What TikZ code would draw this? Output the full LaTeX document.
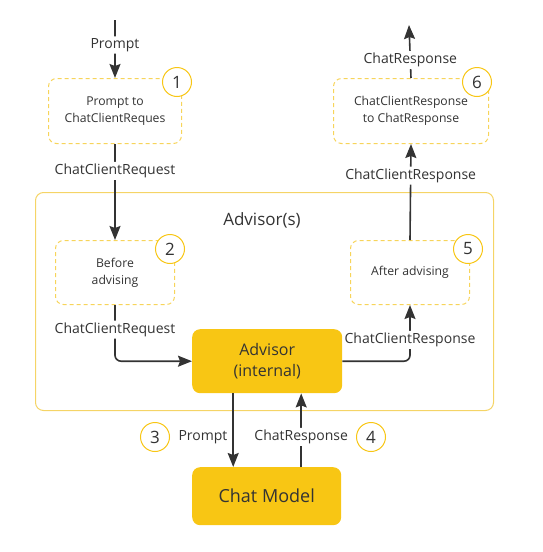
\documentclass[tikz,border=0pt]{standalone}
\usepackage{fontspec}
\setmainfont{Open Sans}
\usetikzlibrary{arrows.meta}

\definecolor{advyellow}{HTML}{F8C614}
\definecolor{dashyellow}{HTML}{F7D45A}
\definecolor{frameyellow}{HTML}{F5D466}
\definecolor{inkgray}{HTML}{333333}

\tikzset{
  stepbox/.style={draw=dashyellow, dashed, dash pattern=on 4pt off 3pt, line width=1pt,
    rounded corners=8pt, align=center, inner sep=0pt, text=inkgray,
    font=\fontsize{12.2}{17}\selectfont, anchor=north west},
  corebox/.style={fill=advyellow, rounded corners=8pt, align=center, inner sep=0pt, text=inkgray},
  numcircle/.style={circle, draw=advyellow, line width=1pt, fill=white, minimum size=29pt,
    inner sep=0pt, text=inkgray, font=\fontsize{17}{17}\selectfont},
  lbl/.style={fill=white, inner sep=2pt, text=inkgray, font=\fontsize{14}{16}\selectfont},
  flow/.style={draw=inkgray, line width=1.6pt, rounded corners=6pt,
    -{Stealth[length=14pt, width=11pt, inset=2pt]}}
}

\begin{document}
\begin{tikzpicture}[x=1pt, y=-1pt]
\useasboundingbox (0,0) rectangle (542,552);

% advisor chain frame
\node[draw=frameyellow, line width=1pt, rounded corners=8pt, anchor=north west,
  minimum width=458pt, minimum height=218pt] (advisors) at (35,192) {};
\node[text=inkgray, font=\fontsize{17}{17}\selectfont] (advtitle) at (262,220) {Advisor(s)};

% steps
\node[stepbox, minimum width=133pt, minimum height=65pt] (toreq) at (48,78) {Prompt to\\ChatClientReques};
\node[stepbox, minimum width=119pt, minimum height=64pt] (before) at (55,240) {Before\\advising};
\node[stepbox, minimum width=119pt, minimum height=64pt] (after) at (350,240) {After advising};
\node[stepbox, minimum width=155pt, minimum height=65pt] (toresp) at (333,78) {ChatClientResponse\\to ChatResponse};

\node[corebox, anchor=north west, minimum width=150pt, minimum height=64pt,
  font=\fontsize{16}{21}\selectfont] (advisor) at (192,329) {Advisor\\(internal)};
\node[corebox, anchor=north west, minimum width=149pt, minimum height=58pt,
  font=\fontsize{18}{18}\selectfont] (model) at (192,467) {Chat Model};

% loose ends
\coordinate (in) at (115,20);
\coordinate (out) at (409,25);

% connectors
\draw[flow] (in) -- node[lbl, pos=0.43] {Prompt} (toreq.north);
\draw[flow] (toreq.south) -- node[lbl, pos=0.28] {ChatClientRequest} (before.north);
\draw[flow] (before.south) |- node[lbl, pos=0.22] {ChatClientRequest} (advisor.west);
\draw[flow] (advisor.east) -| node[lbl, pos=0.69] {ChatClientResponse} (after.south);
\draw[flow] (after.north) -- node[lbl, pos=0.67] {ChatClientResponse} (toresp.south);
\draw[flow] (toresp.north) -- node[lbl, pos=0.34] {ChatResponse} (out);
\draw[flow] ([xshift=-34pt]advisor.south) -- node[lbl, pos=0.59, anchor=east, xshift=-3pt] {Prompt}
  ([xshift=-34pt]advisor.south |- model.north);
\draw[flow] ([xshift=34pt]advisor.south |- model.north) -- node[lbl, pos=0.41] {ChatResponse}
  ([xshift=34pt]advisor.south);

% step numbers
\node[numcircle] (n1) at (177,82) {1};
\node[numcircle] (n2) at (170,249) {2};
\node[numcircle] (n3) at (155,437) {3};
\node[numcircle] (n4) at (371,437) {4};
\node[numcircle] (n5) at (468,249) {5};
\node[numcircle] (n6) at (477,82) {6};
\end{tikzpicture}
\end{document}
